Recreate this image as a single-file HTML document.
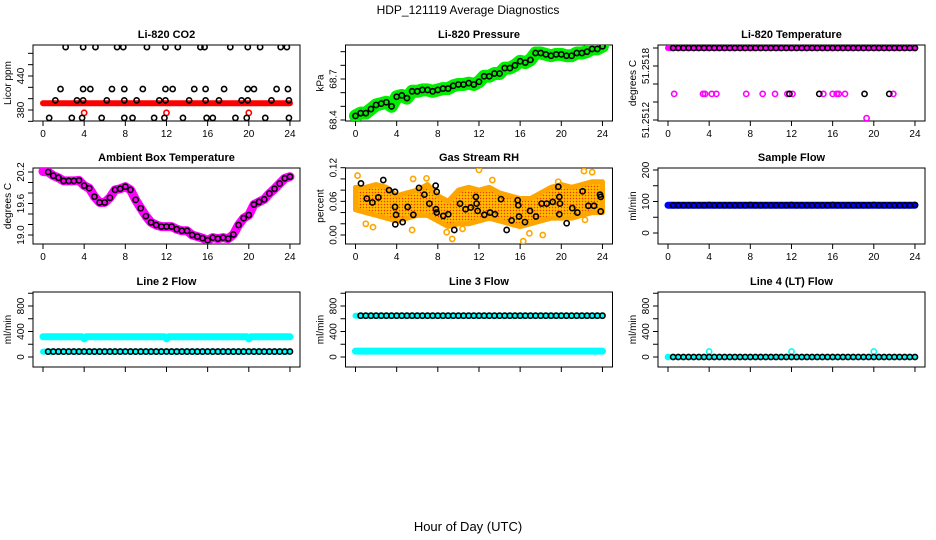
<!DOCTYPE html>
<html><head><meta charset="utf-8"><style>
html,body{margin:0;padding:0;background:#fff;}
svg{display:block;font-family:"Liberation Sans",sans-serif;}
</style></head><body>
<svg id="chart" width="936" height="540" viewBox="0 0 936 540">
<text x="468" y="14" text-anchor="middle" font-size="12">HDP_121119  Average Diagnostics</text>
<text x="468" y="531" text-anchor="middle" font-size="13">Hour of Day (UTC)</text>
</svg>
<script>
// ---- data ----
const xTicks = [0,4,8,12,16,20,24];
const halfHours = [0.5,1,1.5,2,2.5,3,3.5,4,4.5,5,5.5,6,6.5,7,7.5,8,8.5,9,9.5,10,10.5,11,11.5,12,12.5,13,13.5,14,14.5,15,15.5,16,16.5,17,17.5,18,18.5,19,19.5,20,20.5,21,21.5,22,22.5,23,23.5,24];

// CO2
const co2RedHours = [0,24];
const co2RedVals = [392,392];
const co2RedOutHours = [4.0,12.0,20.0];
const co2RedOutVals = [375,375,375];
const co2TopHours = [2.2,3.9,5.1,7.2,7.8,10.1,11.9,13.1,15.3,15.7,18.2,19.9,21.1,23.1,23.7];
const co2TopVal = 491;
const co2MidHours = [1.7,3.9,4.6,6.7,7.9,9.7,11.9,12.6,14.7,15.8,17.6,19.9,20.5,22.7,23.8];
const co2MidVal = 417;
const co2LowHours = [1.2,3.3,3.9,6.2,7.9,9.1,11.3,11.9,14.2,15.8,17.1,19.3,19.9,22.2,23.9];
const co2LowVal = 397;
const co2BotHours = [0.6,2.8,3.8,5.7,7.9,8.7,10.8,11.8,13.6,15.9,16.5,18.7,19.8,21.6,23.9];
const co2BotVal = 366;

// Pressure
const pressHours = [0].concat(halfHours);
const pressVals = [68.43,68.45,68.45,68.48,68.51,68.52,68.53,68.50,68.57,68.58,68.56,68.61,68.61,68.62,68.62,68.61,68.62,68.63,68.63,68.65,68.66,68.66,68.67,68.66,68.68,68.72,68.72,68.74,68.74,68.78,68.78,68.80,68.83,68.82,68.84,68.89,68.89,68.88,68.87,68.88,68.88,68.87,68.87,68.89,68.89,68.90,68.92,68.92,68.94];

// Li-820 temperature
const tempTopHours = [0,24];
const tempTopVals = [51.2520,51.2520];
const tempMagMidHours = [0.6,3.4,3.6,4.25,4.7,7.6,9.2,10.4,11.6,12.1,15.1,16.0,16.4,16.6,17.2,21.9];
const tempBlkMidHours = [11.8,14.7,19.1,21.5];
const tempMidVal = 51.25149;
const tempLowHours = [19.3];
const tempLowVals = [51.25122];

// Ambient box temperature
const ambHours = [0].concat(halfHours);
const ambVals = [20.21,20.2,20.13,20.09,20.03,20.03,20.03,20.04,19.94,19.89,19.73,19.62,19.62,19.71,19.86,19.88,19.92,19.86,19.67,19.51,19.36,19.24,19.19,19.16,19.16,19.16,19.11,19.08,19.08,19.0,18.97,18.94,18.9,18.95,18.93,18.95,18.93,19.01,19.19,19.32,19.38,19.58,19.63,19.68,19.79,19.88,19.98,20.08,20.11];

// Gas stream RH
const rhBandHours = [0,1,2,3,4,5,6,7,8,9,10,11,12,13,14,15,16,17,18,19,20,21,22,23,24];
const rhBandHigh = [0.085,0.085,0.09,0.085,0.07,0.075,0.08,0.09,0.07,0.06,0.08,0.085,0.08,0.085,0.075,0.07,0.065,0.065,0.075,0.085,0.09,0.085,0.09,0.095,0.095];
const rhBandLow = [0.045,0.04,0.035,0.03,0.025,0.03,0.035,0.035,0.025,0.015,0.02,0.02,0.025,0.03,0.025,0.02,0.015,0.02,0.025,0.03,0.03,0.03,0.035,0.04,0.04];
const rhOutHours = [0.2,1.0,1.7,5.6,5.5,6.9,8.86,9.4,10.4,12.0,13.3,16.3,16.9,18.2,19.7,22.2,23.0,22.3];
const rhOutVals = [0.106,0.02,0.014,0.1,0.009,0.101,0.005,-0.007,0.011,0.116,0.098,-0.011,0.003,0.0,0.095,0.114,0.112,0.027];
const rhBlkHours = [0.53,1.1,1.64,2.22,2.7,3.26,3.84,3.84,3.94,3.87,4.58,5.07,5.62,6.17,6.69,7.18,7.79,7.89,7.82,7.89,8.53,9.02,9.6,10.16,10.7,11.2,11.7,11.77,11.87,12.52,13.07,13.55,14.14,14.69,15.17,15.76,15.82,15.89,16.47,16.96,17.54,18.09,18.58,19.16,19.71,19.81,19.81,19.87,20.52,21.07,21.56,22.07,22.63,23.18,23.76,23.83,23.83];
const rhBlkVals = [0.092,0.065,0.058,0.067,0.098,0.080,0.077,0.050,0.036,0.019,0.023,0.050,0.036,0.084,0.072,0.056,0.088,0.077,0.046,0.040,0.034,0.037,0.009,0.056,0.046,0.049,0.068,0.056,0.043,0.036,0.040,0.037,0.064,0.009,0.026,0.062,0.053,0.033,0.023,0.043,0.033,0.056,0.056,0.059,0.086,0.068,0.037,0.056,0.021,0.048,0.040,0.078,0.052,0.052,0.072,0.068,0.042];

// Sample flow
const sampleLineHours = [0,24];
const sampleLineVals = [88,88];
const sampleVals = [88,88,88,88,88,88,88,89,88,88,88,88,88,88,88,89,88,88,88,88,88,88,88,89,88,88,88,88,88,88,88,89,88,88,88,88,88,88,88,89,88,88,88,88,88,88,88,89];

// Line 2 flow
const l2CyanHiHours = [0,3.8,4,4.2,11.8,12,12.2,19.8,20,20.2,24];
const l2CyanHiVals = [318,318,285,318,318,285,318,318,285,318,318];
const l2CyanLoHours = [0,24];
const l2CyanLoVals = [85,85];
const l2BlkVals = [85,85,85,85,85,85,85,86,85,85,85,85,85,85,85,86,85,85,85,85,85,85,85,86,85,85,85,85,85,85,85,86,85,85,85,85,85,85,85,86,85,85,85,85,85,85,85,86];

// Line 3 flow
const l3CyanHiHours = [0,24];
const l3CyanHiVals = [648,648];
const l3CyanLoHours = [0,24];
const l3CyanLoVals = [92,92];
const l3BlkVals = [648,648,648,648,648,648,648,648,648,648,648,648,648,648,648,648,648,648,648,648,648,648,648,648,648,648,648,648,648,648,648,648,648,648,648,648,648,648,648,648,648,648,648,648,648,648,648,648];

// Line 4 flow
const l4CyanHours = [0,24];
const l4CyanVals = [0,0];
const l4CyanOutHours = [0,4,12,20];
const l4CyanOutVals = [0,85,85,85];
const l4BlkVals = [0,0,0,0,0,0,0,0,0,0,0,0,0,0,0,0,0,0,0,0,0,0,0,0,0,0,0,0,0,0,0,0,0,0,0,0,0,0,0,0,0,0,0,0,0,0,0,0];

// ---- drawing ----
const NS = "http://www.w3.org/2000/svg";
const svg = document.getElementById('chart');
const rowsY = [[45,121],[168,244],[292,367]];
function mk(tag, attrs, parent){
  const e = document.createElementNS(NS, tag);
  for (const k in attrs) e.setAttribute(k, attrs[k]);
  (parent||svg).appendChild(e);
  return e;
}
function makePanel(col,row,title,ylab,yDom,pxRange,yTicks,yLabels,showXLabels,name){
  const bx = 33 + 312.5*col, bw = 267;
  const by = rowsY[row][0], bb = rowsY[row][1];
  const g = mk('g', {});
  
  
  const xs = h => bx + 10 + h*10.29;
  const ys = v => pxRange[0] + (v - yDom[0])*(pxRange[1]-pxRange[0])/(yDom[1]-yDom[0]);
  const box = mk('rect', {x:bx, y:by, width:bw, height:bb-by, fill:'none', stroke:'#000', 'stroke-width':1}, g);
  
  
  const t = mk('text', {x:bx+bw/2, y:by-7, 'text-anchor':'middle', 'font-size':11, 'font-weight':'bold'}, g);
  t.textContent = title;
  
  
  mk('line', {x1:xs(0), x2:xs(24), y1:bb, y2:bb, stroke:'#000'}, g);
  xTicks.forEach(v => {
    mk('line', {x1:xs(v), x2:xs(v), y1:bb, y2:bb+5, stroke:'#000'}, g);
    if (showXLabels){
      const tl = mk('text', {x:xs(v), y:bb+16, 'text-anchor':'middle', 'font-size':10}, g);
      tl.textContent = v;
      
      
    }
  });
  mk('line', {x1:bx, x2:bx, y1:ys(yTicks[0]), y2:ys(yTicks[yTicks.length-1]), stroke:'#000'}, g);
  yTicks.forEach(v => mk('line', {x1:bx-5, x2:bx, y1:ys(v), y2:ys(v), stroke:'#000'}, g));
  yLabels.forEach(([v,s]) => {
    const yy = ys(v);
    const tl = mk('text', {x:bx-9, y:yy, 'text-anchor':'middle', 'font-size':10, transform:`rotate(-90 ${bx-9} ${yy})`}, g);
    tl.textContent = s;
    
    
  });
  const yl = mk('text', {x:bx-22, y:(by+bb)/2, 'text-anchor':'middle', 'font-size':10, transform:`rotate(-90 ${bx-22} ${(by+bb)/2})`}, g);
  yl.textContent = ylab;
  
  
  const clipId = 'clip-' + name;
  const cp = mk('clipPath', {id:clipId}, g);
  mk('rect', {x:bx, y:by, width:bw, height:bb-by}, cp);
  const data = mk('g', {'clip-path':`url(#${clipId})`}, g);
  return {xs, ys, g:data};
}
function band(p, hours, vals, color, width, nm){
  const pts = hours.map((h,i)=>p.xs(h)+','+p.ys(vals[i])).join(' ');
  const l = mk('polyline', {points:pts, fill:'none', stroke:color, 'stroke-width':width, 'stroke-linejoin':'round', 'stroke-linecap':'round'}, p.g);
  
  
}
function circles(p, hours, vals, color, nm, r){
  hours.forEach((h,i)=>{
    const v = Array.isArray(vals) ? vals[i] : vals;
    const c = mk('circle', {cx:p.xs(h), cy:p.ys(v), r:r||2.6, fill:'none', stroke:color, 'stroke-width':1.6}, p.g);
    
    
  });
}

let p = makePanel(0,0,'Li-820 CO2','Licor ppm',[380,440],[110,76],[360,380,400,420,440,460,480],[[380,'380'],[440,'440']],true,'co2');
band(p, co2RedHours, co2RedVals, '#ff0000', 6, 'co2-red-series');
circles(p, co2RedOutHours, co2RedOutVals, '#ff0000', 'co2-red-point');
circles(p, co2TopHours, co2TopVal, '#000', 'co2-point');
circles(p, co2MidHours, co2MidVal, '#000', 'co2-point');
circles(p, co2LowHours, co2LowVal, '#000', 'co2-point');
circles(p, co2BotHours, co2BotVal, '#000', 'co2-point');

p = makePanel(1,0,'Li-820 Pressure','kPa',[68.4,68.7],[120,79],[68.4,68.5,68.6,68.7,68.8,68.9],[[68.4,'68.4'],[68.7,'68.7']],true,'pressure');
band(p, pressHours, pressVals, '#00ee00', 13, 'pressure-green-series');
circles(p, pressHours, pressVals, '#000', 'pressure-point');

p = makePanel(2,0,'Li-820 Temperature','degrees C',[51.2512,51.2518],[120,66],[51.2512,51.2514,51.2516,51.2518,51.2520],[[51.2512,'51.2512'],[51.2518,'51.2518']],true,'temperature');
band(p, tempTopHours, tempTopVals, '#ff00ff', 6, 'temperature-magenta-series');
circles(p, halfHours, halfHours.map(()=>tempTopVals[0]), '#000', 'temperature-point');
circles(p, tempMagMidHours, tempMidVal, '#ff00ff', 'temperature-magenta-point');
circles(p, tempBlkMidHours, tempMidVal, '#000', 'temperature-point');
circles(p, tempLowHours, tempLowVals, '#ff00ff', 'temperature-magenta-point');

p = makePanel(0,1,'Ambient Box Temperature','degrees C',[19.0,20.2],[235,172],[19.0,19.2,19.4,19.6,19.8,20.0,20.2],[[19.0,'19.0'],[19.6,'19.6'],[20.2,'20.2']],true,'ambient');
band(p, ambHours, ambVals, '#ff00ff', 9, 'ambient-magenta-series');
circles(p, ambHours.slice(1), ambVals.slice(1), '#000', 'ambient-point');

p = makePanel(1,1,'Gas Stream RH','percent',[0,0.12],[235,167.7],[0,0.02,0.04,0.06,0.08,0.10,0.12],[[0,'0.00'],[0.06,'0.06'],[0.12,'0.12']],true,'rh');
(function(){
  const defs = mk('defs', {}, p.g);
  const pat = mk('pattern', {id:'rhpat', width:3, height:3, patternUnits:'userSpaceOnUse'}, defs);
  mk('rect', {width:3, height:3, fill:'#ffa500'}, pat);
  mk('rect', {x:0, y:0, width:1, height:1, fill:'#ff3000'}, pat);
  mk('rect', {x:1.5, y:1.5, width:1, height:1, fill:'#ffff00'}, pat);
  const pts = rhBandHours.map((h,i)=>p.xs(h)+','+p.ys(rhBandHigh[i]))
    .concat(rhBandHours.slice().reverse().map((h,i)=>p.xs(h)+','+p.ys(rhBandLow[rhBandHours.length-1-i])));
  const poly = mk('polygon', {points:pts.join(' '), fill:'url(#rhpat)', stroke:'#ffa500', 'stroke-width':5, 'stroke-linejoin':'round'}, p.g);
  
  
})();
circles(p, rhOutHours, rhOutVals, '#ffa500', 'rh-orange-point');
circles(p, rhBlkHours, rhBlkVals, '#000', 'rh-point');

p = makePanel(2,1,'Sample Flow','ml/min',[0,200],[233,170],[0,50,100,150,200],[[0,'0'],[100,'100'],[200,'200']],true,'sample-flow');
band(p, sampleLineHours, sampleLineVals, '#0000ff', 7, 'sample-flow-blue-series');
circles(p, halfHours, sampleVals, '#000', 'sample-flow-point');

p = makePanel(0,2,'Line 2 Flow','ml/min',[0,800],[357,306],[0,200,400,600,800,1000],[[0,'0'],[400,'400'],[800,'800']],false,'line2-flow');
band(p, l2CyanHiHours, l2CyanHiVals, '#00ffff', 7, 'line2-cyan-high-series');
band(p, l2CyanLoHours, l2CyanLoVals, '#00ffff', 6, 'line2-cyan-low-series');
circles(p, halfHours, l2BlkVals, '#000', 'line2-flow-point');

p = makePanel(1,2,'Line 3 Flow','ml/min',[0,800],[357,306],[0,200,400,600,800,1000],[[0,'0'],[400,'400'],[800,'800']],false,'line3-flow');
band(p, l3CyanHiHours, l3CyanHiVals, '#00ffff', 6, 'line3-cyan-high-series');
band(p, l3CyanLoHours, l3CyanLoVals, '#00ffff', 7, 'line3-cyan-low-series');
circles(p, halfHours, l3BlkVals, '#000', 'line3-flow-point');

p = makePanel(2,2,'Line 4 (LT) Flow','ml/min',[0,800],[357,306],[0,200,400,600,800,1000],[[0,'0'],[400,'400'],[800,'800']],false,'line4-flow');
band(p, l4CyanHours, l4CyanVals, '#00ffff', 5, 'line4-cyan-series');
circles(p, l4CyanOutHours, l4CyanOutVals, '#00ffff', 'line4-cyan-point');
circles(p, halfHours, l4BlkVals, '#000', 'line4-flow-point');
</script>
</body></html>
